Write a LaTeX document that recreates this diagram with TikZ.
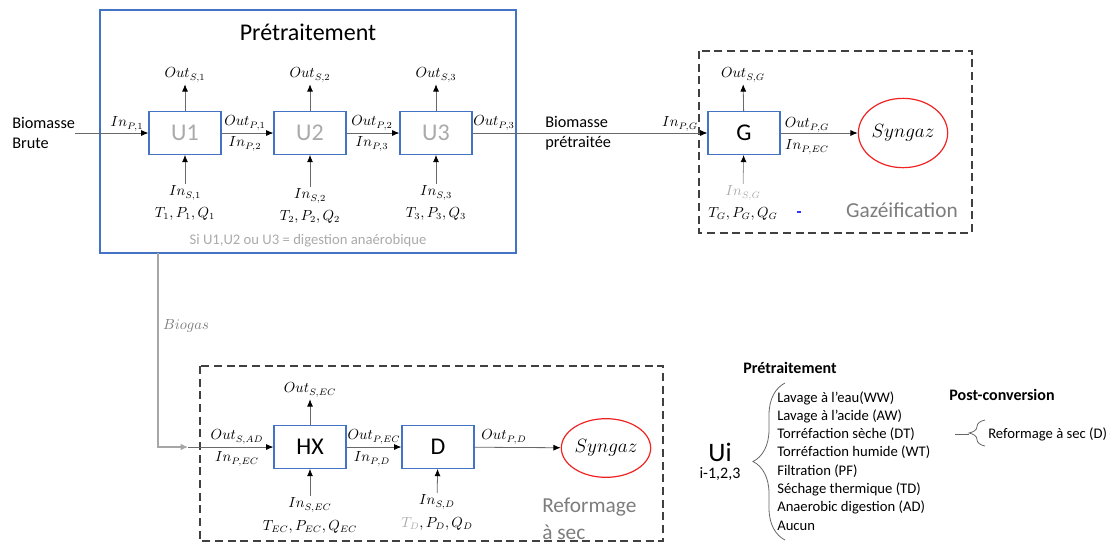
\documentclass[tikz,border=0pt]{standalone}
\usepackage{fontspec}
\setmainfont{Carlito}
\usepackage{tikz}
\usetikzlibrary{positioning,arrows.meta,decorations.pathreplacing,shapes.geometric}
\definecolor{boxblue}{RGB}{68,114,196}
\definecolor{unitgray}{RGB}{170,170,170}
\definecolor{phasegray}{RGB}{125,125,125}
\definecolor{flowgray}{RGB}{105,105,105}
\definecolor{syngasred}{RGB}{240,35,35}

\tikzset{
  unit/.style={draw=boxblue, line width=0.8pt, minimum width=54pt, minimum height=32pt,
    inner sep=0pt, font=\fontsize{18}{21}\selectfont},
  flow/.style={draw=flowgray, line width=0.6pt, -{Latex[length=5.5pt,width=4.5pt,color=black]}},
  bioflow/.style={draw=black!35, line width=1pt, -{Latex[length=5.5pt,width=5pt,color=black!35]}},
  lbl/.style={font=\fontsize{10.6}{12}\selectfont, inner sep=1.5pt},
  txt/.style={font=\fontsize{12.2}{15}\selectfont, inner sep=0pt, align=left},
  frame/.style={draw=black!75, line width=0.9pt, dash pattern=on 6pt off 3.5pt},
  syngas/.style={draw=syngasred, line width=0.9pt, ellipse, minimum width=67pt,
    minimum height=52pt, inner sep=0pt, font=\fontsize{15}{17}\selectfont},
  legendbrace/.style={draw=black!60, line width=0.6pt, decorate},
  legend/.style={font=\fontsize{11}{13}\selectfont, inner sep=0pt, anchor=west},
}

\begin{document}
\begin{tikzpicture}[x=0.75pt, y=-0.75pt]
  \useasboundingbox (0,0) rectangle (1116,544);

  % Frames
  \draw[boxblue, line width=0.9pt] (100,10) rectangle (516,253);
  \draw[frame] (699,51) rectangle (972,233);
  \draw[frame] (200,366) rectangle (663,541);
  \node[font=\fontsize{18}{21}\selectfont] (pretitle) at (308,32) {Prétraitement};
  \node[font=\fontsize{11}{13}\selectfont, text=unitgray] (adnote) at (308,241)
    {Si U1,U2 ou U3 = digestion anaérobique};
  \node[font=\fontsize{16}{19}\selectfont, text=phasegray] (gaztitle) at (902,210) {Gazéification};
  \node[font=\fontsize{16}{20}\selectfont, text=phasegray, align=left, anchor=west,
    inner sep=0pt] (reftitle) at (542,519) {Reformage\\à sec};

  % Pretreatment units
  \foreach \i/\x/\dy in {1/185/0, 2/310/3, 3/436/0}{
    \node[unit, text=unitgray] (u\i) at (\x,133) {U\i};
    \node[lbl] (os\i) at (\x,75) {$Out_{S,\i}$};
    \node[lbl] (is\i) at (\x,193+\dy) {$In_{S,\i}$};
    \node[lbl] (tpq\i) at (\x,214+\dy) {$T_{\i}, P_{\i}, Q_{\i}$};
    \draw[flow] (u\i) -- (os\i);
    \draw[flow] (is\i) -- (u\i);
  }

  % Main biomass line
  \node[txt, anchor=west] (brute) at (12,133) {Biomasse\\Brute};
  \node[unit] (g) at (744,133) {G};
  \node[syngas] (syn1) at (903,133) {$Syngaz$};
  \draw[flow] (brute) -- (u1);
  \draw[flow] (u1) -- (u2);
  \draw[flow] (u2) -- (u3);
  \draw[flow] (u3) -- (g);
  \draw[flow] (g) -- (syn1);
  \node[txt, anchor=west] (pretr) at (545,133) {Biomasse\\prétraitée};

  \node[lbl] (ip1) at (127,124) {$In_{P,1}$};
  \node[lbl] (op1) at (245,123) {$Out_{P,1}$};
  \node[lbl] (ip2) at (245,144) {$In_{P,2}$};
  \node[lbl] (op2) at (372,123) {$Out_{P,2}$};
  \node[lbl] (ip3) at (372,144) {$In_{P,3}$};
  \node[lbl] (op3) at (494,123) {$Out_{P,3}$};
  \node[lbl] (ipg) at (680,124) {$In_{P,G}$};
  \node[lbl] (opg) at (807,125) {$Out_{P,G}$};
  \node[lbl] (ipec1) at (807,147) {$In_{P,EC}$};

  % Gasification side streams
  \node[lbl] (osg) at (743,75) {$Out_{S,G}$};
  \node[lbl, text=unitgray] (isg) at (743,193) {$In_{S,G}$};
  \node[lbl] (tpqg) at (743,214) {$T_G, P_G, Q_G$};
  \draw[flow] (g) -- (osg);
  \draw[flow, draw=black!40] (isg) -- (g);
  \coordinate (dotl) at (797,212);
  \coordinate (dotr) at (801,212);
  \draw[blue!80, line width=0.8pt] (dotl) -- (dotr);

  % Dry reforming line
  \node[unit] (hx) at (310,447) {HX};
  \node[unit] (d) at (438,447) {D};
  \node[syngas, minimum height=44pt] (syn2) at (606,448) {$Syngaz$};
  \coordinate (adout) at (158,253);
  \coordinate (adin) at (188,447);
  \draw[bioflow] (adout) |- (adin);
  \node[lbl, text=phasegray] (biogas) at (186,326) {$Biogas$};
  \draw[flow] (adin) -- (hx);
  \draw[flow] (hx) -- (d);
  \draw[flow] (d) -- (syn2);

  \node[lbl] (osad) at (237,437) {$Out_{S,AD}$};
  \node[lbl] (ipec2) at (237,459) {$In_{P,EC}$};
  \node[lbl] (opec) at (374,437) {$Out_{P,EC}$};
  \node[lbl] (ipd) at (372,459) {$In_{P,D}$};
  \node[lbl] (opd) at (504,437) {$Out_{P,D}$};

  \node[lbl] (osec) at (310,390) {$Out_{S,EC}$};
  \node[lbl] (isec) at (310,505) {$In_{S,EC}$};
  \node[lbl] (tpqec) at (310,527) {$T_{EC}, P_{EC}, Q_{EC}$};
  \node[lbl] (isd) at (437,502) {$In_{S,D}$};
  \node[lbl] (tpqd) at (437,524) {$\textcolor{unitgray}{T_D}, P_D, Q_D$};
  \draw[flow] (hx) -- (osec);
  \draw[flow] (isec) -- (hx);
  \draw[flow] (isd) -- (d);

  % Legend
  \node[font=\bfseries\fontsize{12}{14}\selectfont] (legpre) at (790,368) {Prétraitement};
  \node[font=\fontsize{20}{22}\selectfont, inner sep=0pt] (ui) at (720,452) {Ui};
  \node[font=\fontsize{12}{14}\selectfont, inner sep=0pt] (uiidx) at (720,474) {i-1,2,3};
  \coordinate (bigbot) at (785,540);
  \coordinate (bigtop) at (785,383);
  \draw[legendbrace, decoration={brace, amplitude=24pt}] (bigbot) -- (bigtop);
  \foreach \item [count=\k] in {Lavage à l’eau(WW), Lavage à l’acide (AW),
      Torréfaction sèche (DT), Torréfaction humide (WT), Filtration (PF),
      Séchage thermique (TD), Anaerobic digestion (AD), Aucun}{
    \node[legend] (item\k) at (777,{398+18.2*(\k-1)}) {\item};
  }

  \node[font=\bfseries\fontsize{12}{14}\selectfont] (legpost) at (1002,395) {Post-conversion};
  \coordinate (smallbot) at (985,446);
  \coordinate (smalltop) at (985,420);
  \coordinate (stemleft) at (955,434);
  \coordinate (stemright) at (969,434);
  \draw[legendbrace, decoration={brace, amplitude=12pt}] (smallbot) -- (smalltop);
  \draw[black!60, line width=0.6pt] (stemleft) -- (stemright);
  \node[legend] (dryref) at (988,434) {Reformage à sec (D)};
\end{tikzpicture}
\end{document}
